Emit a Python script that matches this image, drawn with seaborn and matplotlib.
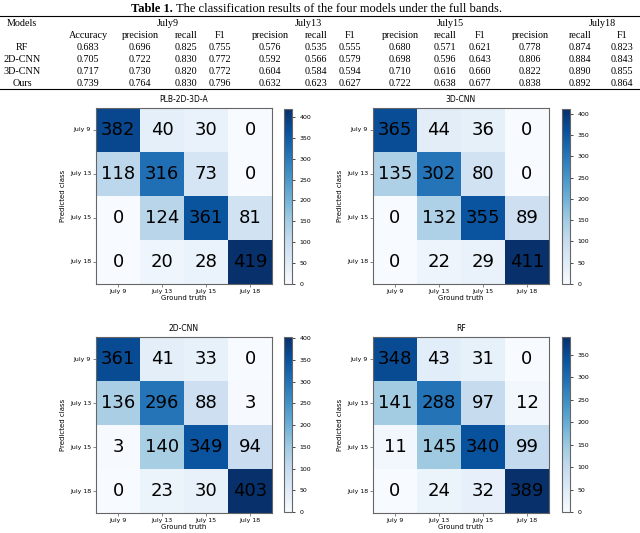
import numpy as np
import seaborn as sns
import matplotlib.pyplot as plt
from matplotlib.lines import Line2D

# Dados da tabela
models = ['RF', '2D-CNN', '3D-CNN', 'Ours']
dates = ['July9', 'July13', 'July15', 'July18']
metric_cols = ['Accuracy', 'precision', 'recall', 'F1', 'precision', 'recall', 'F1',
               'precision', 'recall', 'F1', 'precision', 'recall', 'F1']
rf_vals = ['0.683', '0.696', '0.825', '0.755', '0.576', '0.535', '0.555', '0.680', '0.571', '0.621', '0.778', '0.874', '0.823']
cnn2d_vals = ['0.705', '0.722', '0.830', '0.772', '0.592', '0.566', '0.579', '0.698', '0.596', '0.643', '0.806', '0.884', '0.843']
cnn3d_vals = ['0.717', '0.730', '0.820', '0.772', '0.604', '0.584', '0.594', '0.710', '0.616', '0.660', '0.822', '0.890', '0.855']
ours_vals = ['0.739', '0.764', '0.830', '0.796', '0.632', '0.623', '0.627', '0.722', '0.638', '0.677', '0.838', '0.892', '0.864']

# Matrizes de confusao
classes = ['July 9', 'July 13', 'July 15', 'July 18']
cm_plb = [[382, 40, 30, 0], [118, 316, 73, 0], [0, 124, 361, 81], [0, 20, 28, 419]]
cm_3d = [[365, 44, 36, 0], [135, 302, 80, 0], [0, 132, 355, 89], [0, 22, 29, 411]]
cm_2d = [[361, 41, 33, 0], [136, 296, 88, 3], [3, 140, 349, 94], [0, 23, 30, 403]]
cm_rf = [[348, 43, 31, 0], [141, 288, 97, 12], [11, 145, 340, 99], [0, 24, 32, 389]]

W, H = 640, 533
fig = plt.figure(figsize=(W / 100, H / 100), dpi=100)


def px(x, y):
    return x / W, 1 - y / H


def box(x, y, w, h):
    return [x / W, 1 - (y + h) / H, w / W, h / H]


# Tabela
serif = 'Liberation Serif'
fig.text(*px(173, 9), 'Table 1.', ha='right', va='center', fontsize=9,
         fontweight='bold', family=serif)
fig.text(*px(176, 9), 'The classification results of the four models under the full bands.',
         ha='left', va='center', fontsize=9, family=serif)

for yl in [16, 89]:
    fig.add_artist(Line2D([0, 1], [1 - yl / H] * 2, color='black', lw=0.8,
                          transform=fig.transFigure))

col_x = [22, 88, 140, 186, 220, 270, 316, 350, 400, 445, 480, 530, 580, 622]
date_x = [168, 308, 450, 602]
row_y = [48, 60, 71, 83]
tsize = 7.3

fig.text(*px(col_x[0], 23), 'Models', ha='center', va='center', fontsize=tsize, family=serif)
for d, x in zip(dates, date_x):
    fig.text(*px(x, 23), d, ha='center', va='center', fontsize=tsize, family=serif)
for m, x in zip(metric_cols, col_x[1:]):
    fig.text(*px(x, 35), m, ha='center', va='center', fontsize=tsize, family=serif)
for name, vals, y in zip(models, [rf_vals, cnn2d_vals, cnn3d_vals, ours_vals], row_y):
    fig.text(*px(col_x[0], y), name, ha='center', va='center', fontsize=tsize, family=serif)
    for v, x in zip(vals, col_x[1:]):
        fig.text(*px(x, y), v, ha='center', va='center', fontsize=tsize, family=serif)


# Heatmaps
panels = [
    ('PLB-2D-3D-A', cm_plb, (96, 108), (284, 109)),
    ('3D-CNN', cm_3d, (373, 108), (562, 109)),
    ('2D-CNN', cm_2d, (96, 337), (284, 337)),
    ('RF', cm_rf, (373, 337), (562, 337)),
]

for title, cm, (hx, hy), (cx, cy) in panels:
    ax = fig.add_axes(box(hx, hy, 176, 176))
    cax = fig.add_axes(box(cx, cy, 8, 175))
    sns.heatmap(np.array(cm), ax=ax, cbar_ax=cax, cmap='Blues', vmin=0,
                annot=True, fmt='d', annot_kws={'size': 13, 'color': 'black'},
                xticklabels=classes, yticklabels=classes)
    ax.set_title(title, fontsize=5.5, pad=4)
    ax.set_xlabel('Ground truth', fontsize=5, labelpad=1)
    ax.set_ylabel('Predicted class', fontsize=5, labelpad=3)
    ax.tick_params(labelsize=4.5, length=2, width=0.5, color='#555555', pad=1.5)
    ax.set_xticklabels(classes, rotation=0)
    ax.set_yticklabels(classes, rotation=0)
    for s in ax.spines.values():
        s.set_visible(True)
        s.set_color('#666666')
        s.set_linewidth(0.8)
    cax.set_yticks(range(0, int(np.max(cm)) + 1, 50))
    cax.tick_params(labelsize=4.5, length=2, width=0.5)
    cax.spines['outline'].set_visible(True)
    cax.spines['outline'].set_edgecolor('#666666')
    cax.spines['outline'].set_linewidth(0.8)

plt.savefig('out.png', dpi=100)
